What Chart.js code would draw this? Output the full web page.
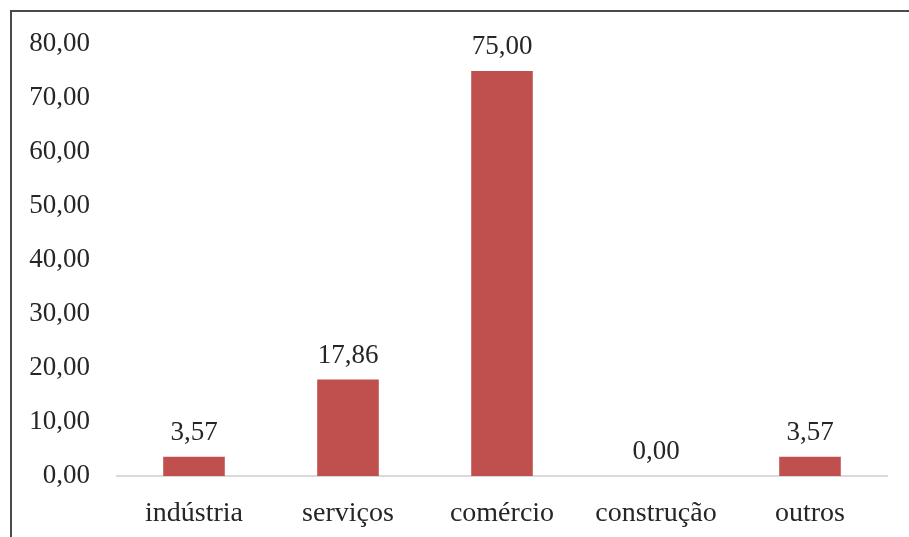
<!DOCTYPE html>
<html>
<head>
<meta charset="utf-8">
<script src="https://cdn.jsdelivr.net/npm/chart.js@4.4.0/dist/chart.umd.min.js"></script>
<style>
  html, body { margin: 0; padding: 0; background: #fff; }
  #wrap { position: relative; width: 909px; height: 537px; overflow: hidden; }
  #frame { position: absolute; left: 10px; top: 10px; width: 1000px; height: 1000px;
           border-left: 2px solid #4a4a4a; border-top: 2px solid #4a4a4a; box-sizing: border-box; pointer-events: none; }
  canvas { position: absolute; left: 0; top: 0; }
</style>
</head>
<body>
<div id="wrap">
  <canvas id="c" width="909" height="537"></canvas>
  <div id="frame"></div>
</div>
<script>
const categories = ["indústria", "serviços", "comércio", "construção", "outros"];
const values = [3.57, 17.86, 75.00, 0.00, 3.57];
const yMin = 0;
const yMax = 80;
const yStep = 10;

const fmt = v => Number(v).toFixed(2).replace('.', ',');
const FONT = "'Liberation Serif', 'Times New Roman', serif";
const TEXT = '#262626';

const valueLabels = {
  id: 'valueLabels',
  afterDatasetsDraw(chart) {
    const ctx = chart.ctx;
    const meta = chart.getDatasetMeta(0);
    ctx.save();
    ctx.font = "27px " + FONT;
    ctx.fillStyle = TEXT;
    ctx.textAlign = 'center';
    ctx.textBaseline = 'alphabetic';
    meta.data.forEach((bar, i) => {
      ctx.fillText(fmt(values[i]), bar.x, bar.y - 17);
    });
    ctx.restore();
  }
};

new Chart(document.getElementById('c'), {
  type: 'bar',
  data: {
    labels: categories,
    datasets: [{
      data: values,
      backgroundColor: '#C0504D',
      borderWidth: 0,
      barPercentage: 0.4,
      categoryPercentage: 1.0
    }]
  },
  options: {
    responsive: false,
    animation: false,
    devicePixelRatio: 1,
    layout: { padding: { left: 0, right: 22, top: 44, bottom: 0 } },
    plugins: { legend: { display: false }, tooltip: { enabled: false } },
    scales: {
      x: {
        grid: { display: false, drawTicks: false },
        border: { display: true, color: '#d9d9d9', width: 2 },
        ticks: { color: TEXT, font: { family: FONT, size: 28 }, padding: 21, maxRotation: 0 },
        afterFit(scale) { scale.height = 61; }
      },
      y: {
        min: yMin, max: yMax,
        grid: { display: false, drawTicks: false },
        border: { display: false },
        ticks: { stepSize: yStep, color: TEXT, font: { family: FONT, size: 27 }, padding: 27,
                 callback: v => fmt(v) },
        afterFit(scale) { scale.width = 117; }
      }
    }
  },
  plugins: [valueLabels]
});
</script>
</body>
</html>
